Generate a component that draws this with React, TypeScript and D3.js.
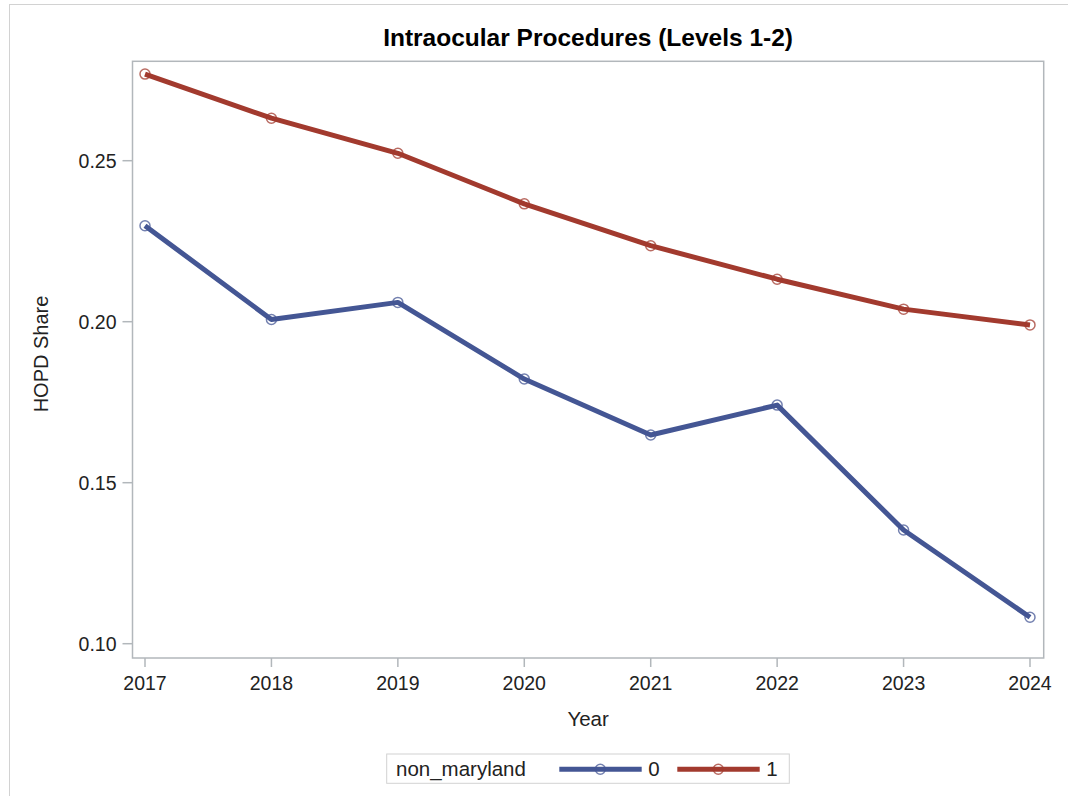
import React from "react";
import * as d3 from "d3";

const years = [2017, 2018, 2019, 2020, 2021, 2022, 2023, 2024];
const group0 = [0.2298, 0.2007, 0.206, 0.1822, 0.1648, 0.1741, 0.1353, 0.1082];
const group1 = [0.2769, 0.2632, 0.2523, 0.2366, 0.2236, 0.2132, 0.2039, 0.199];
const yTicks = [0.1, 0.15, 0.2, 0.25];
const seriesNames = ["0", "1"];

const W = 1068;
const H = 796;
const plot = { left: 132.5, right: 1043.7, top: 61.3, bottom: 658 };
const blue = "#445694";
const red = "#A23A2E";
const axisGray = "#B2B7BB";
const font = "'Liberation Sans', Arial, sans-serif";

const App = () => {
  const x = d3
    .scalePoint<number>()
    .domain(years)
    .range([145, 1030]);

  const y = d3
    .scaleLinear()
    .domain([0.1, 0.25])
    .range([643.7, 160.7]);

  const line = d3
    .line<number>()
    .x((_, i) => x(years[i]) as number)
    .y((d) => y(d));

  const series = [
    { name: seriesNames[0], values: group0, color: blue },
    { name: seriesNames[1], values: group1, color: red },
  ];

  const cx = (plot.left + plot.right) / 2;

  return (
    <svg
      width={W}
      height={H}
      style={{ position: "absolute", left: 0, top: 0, background: "#fff" }}
      fontFamily={font}
    >
      {/* outer frame */}
      <rect x={9.5} y={4.5} width={W + 10} height={H + 10} fill="none" stroke="#D2D2D2" strokeWidth={1} />

      <text x={cx} y={46} textAnchor="middle" fontSize={24.5} fontWeight="bold" fill="#000">
        Intraocular Procedures (Levels 1-2)
      </text>

      {/* plot frame */}
      <rect
        x={plot.left}
        y={plot.top}
        width={plot.right - plot.left}
        height={plot.bottom - plot.top}
        fill="none"
        stroke={axisGray}
        strokeWidth={1.5}
      />

      {/* y axis */}
      {yTicks.map((t) => (
        <g key={t}>
          <line x1={plot.left - 10} x2={plot.left} y1={y(t)} y2={y(t)} stroke={axisGray} strokeWidth={1.5} />
          <text x={plot.left - 16} y={y(t)} dy="0.35em" textAnchor="end" fontSize={19.5} fill="#222">
            {d3.format(".2f")(t)}
          </text>
        </g>
      ))}
      <text
        transform={`translate(48,354) rotate(-90)`}
        textAnchor="middle"
        fontSize={20}
        fill="#222"
      >
        HOPD Share
      </text>

      {/* x axis */}
      {years.map((yr) => (
        <g key={yr}>
          <line x1={x(yr)} x2={x(yr)} y1={plot.bottom} y2={plot.bottom + 9} stroke={axisGray} strokeWidth={1.5} />
          <text x={x(yr)} y={690} textAnchor="middle" fontSize={19.5} fill="#222">
            {yr}
          </text>
        </g>
      ))}
      <text x={cx} y={726} textAnchor="middle" fontSize={20.5} fill="#222">
        Year
      </text>

      {/* series */}
      {series.map((s) => (
        <g key={s.name}>
          <path d={line(s.values) || ""} fill="none" stroke={s.color} strokeWidth={5} strokeLinejoin="round" />
          {s.values.map((v, i) => (
            <circle
              key={i}
              cx={x(years[i])}
              cy={y(v)}
              r={5}
              fill="none"
              stroke={s.color}
              strokeOpacity={0.75}
              strokeWidth={1.5}
            />
          ))}
        </g>
      ))}

      {/* legend */}
      <g>
        <rect x={386.7} y={754} width={402.6} height={29.3} fill="#fff" stroke="#D2D2D2" strokeWidth={1} />
        <text x={396} y={775.5} fontSize={20.5} fill="#222">
          non_maryland
        </text>
        {series.map((s, i) => {
          const x0 = 559.3 + i * 118;
          return (
            <g key={s.name}>
              <line x1={x0} x2={x0 + 82.4} y1={769.3} y2={769.3} stroke={s.color} strokeWidth={5} />
              <circle cx={x0 + 41} cy={769.3} r={5} fill="none" stroke={s.color} strokeOpacity={0.75} strokeWidth={1.5} />
              <text x={x0 + 89} y={776} fontSize={20.5} fill="#222">
                {s.name}
              </text>
            </g>
          );
        })}
      </g>
    </svg>
  );
};

export default App;
